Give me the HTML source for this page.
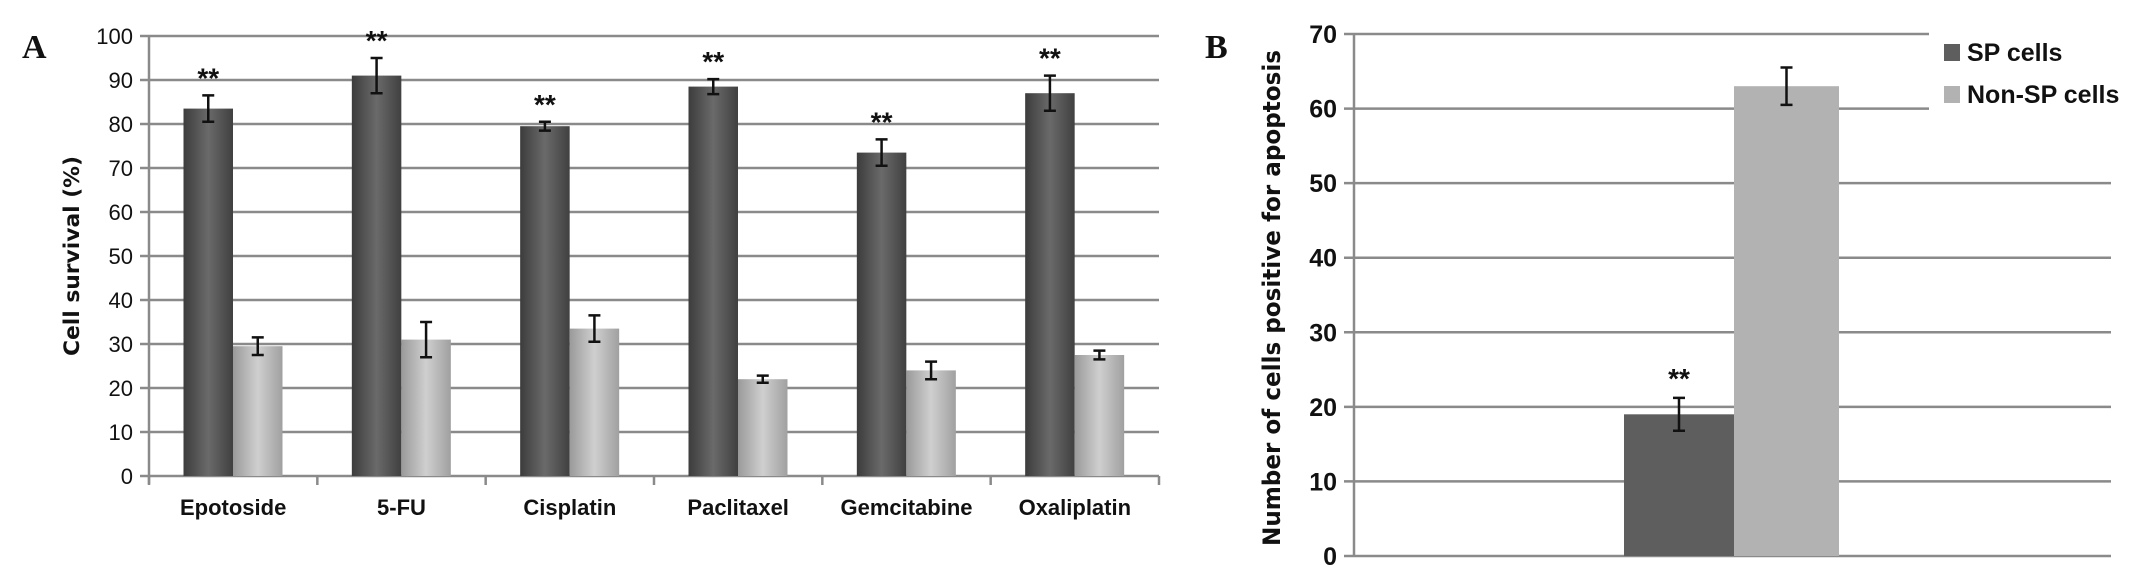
<!DOCTYPE html>
<html><head><meta charset="utf-8">
<style>
html,body{margin:0;padding:0;background:#fff;width:2133px;height:584px;overflow:hidden}
svg{display:block}
.tick{font-family:"Liberation Sans Narrow","Liberation Sans",sans-serif;font-size:22px;fill:#111}
.cat{font-family:"Liberation Sans Narrow","Liberation Sans",sans-serif;font-size:22px;font-weight:bold;fill:#111}
.btick{font-family:"Liberation Sans Narrow","Liberation Sans",sans-serif;font-size:25px;font-weight:bold;fill:#111}
.ttl{font-family:"DejaVu Sans","Liberation Sans",sans-serif;font-weight:bold;fill:#111}
.star{font-family:"Liberation Sans",sans-serif;font-weight:bold;fill:#111;font-size:28px}
.panel{font-family:"Liberation Serif",serif;font-weight:bold;font-size:34px;fill:#111}
</style></head><body>
<svg id="chart" width="2133" height="584" viewBox="0 0 2133 584">
<defs>
<linearGradient id="gDark" x1="0" x2="1" y1="0" y2="0">
<stop offset="0" stop-color="#3c3c3c"/><stop offset="0.5" stop-color="#6a6a6a"/><stop offset="1" stop-color="#404040"/></linearGradient>
<linearGradient id="gLight" x1="0" x2="1" y1="0" y2="0">
<stop offset="0" stop-color="#9a9a9a"/><stop offset="0.5" stop-color="#cfcfcf"/><stop offset="1" stop-color="#a0a0a0"/></linearGradient>
</defs>
<text class="panel" x="22" y="58">A</text>
<text class="panel" x="1205" y="58">B</text>
<g id="A"></g><g id="B"></g>
</svg>
<script>
const aCategories = ["Epotoside","5-FU","Cisplatin","Paclitaxel","Gemcitabine","Oxaliplatin"];
const aSP = [83.5, 91, 79.5, 88.5, 73.5, 87];
const aSPErr = [3, 4, 1, 1.7, 3, 4];
const aNonSP = [29.5, 31, 33.5, 22, 24, 27.5];
const aNonSPErr = [2, 4, 3, 0.8, 2, 1];
const aTicks = [0,10,20,30,40,50,60,70,80,90,100];
const bSeries = ["SP cells","Non-SP cells"];
const bValues = [19, 63];
const bErr = [2.2, 2.5];
const bTicks = [0,10,20,30,40,50,60,70];

const NS="http://www.w3.org/2000/svg";
function mk(parent,tag,attrs,text){const e=document.createElementNS(NS,tag);for(const k in attrs)e.setAttribute(k,attrs[k]);if(text!==undefined)e.textContent=text;parent.appendChild(e);return e;}

// Panel A
const A=document.getElementById('A');
const ax0=149, ax1=1159, ay0=476, ay1=36;
const yA=v=>ay0-(v/100)*(ay0-ay1);
const catW=(ax1-ax0)/aCategories.length;
aTicks.forEach(t=>{
  let l=mk(A,'line',{x1:ax0-9,x2:ax1,y1:yA(t),y2:yA(t),stroke:'#8a8a8a','stroke-width':2.5});
  
  let tx=mk(A,'text',{x:ax0-16,y:yA(t)+8,'text-anchor':'end',class:'tick'},String(t));
  
});
let yax=mk(A,'line',{x1:ax0,x2:ax0,y1:ay1,y2:ay0+8,stroke:'#8a8a8a','stroke-width':2.5});

for(let i=0;i<=aCategories.length;i++){
  let tk=mk(A,'line',{x1:ax0+i*catW,x2:ax0+i*catW,y1:ay0,y2:ay0+9,stroke:'#8a8a8a','stroke-width':2.5});
  
}
function errBar(g,cx,v,e,yf){
  const p=mk(g,'path',{d:`M${cx-6},${yf(v+e)}H${cx+6}M${cx},${yf(v+e)}V${yf(v-e)}M${cx-6},${yf(v-e)}H${cx+6}`,stroke:'#111','stroke-width':2.5,fill:'none'});
  
}
const bw=49.5;
aCategories.forEach((c,i)=>{
  const x=ax0+i*catW+34.5;
  let r1=mk(A,'rect',{x:x,y:yA(aSP[i]),width:bw,height:ay0-yA(aSP[i]),fill:'url(#gDark)'});
  
  let r2=mk(A,'rect',{x:x+bw,y:yA(aNonSP[i]),width:bw,height:ay0-yA(aNonSP[i]),fill:'url(#gLight)'});
  
  errBar(A,x+bw/2,aSP[i],aSPErr[i],yA);
  errBar(A,x+bw*1.5,aNonSP[i],aNonSPErr[i],yA);
  let s=mk(A,'text',{x:x+bw/2,y:yA(aSP[i]+aSPErr[i])-8,'text-anchor':'middle',class:'star'},'**');
  
  let cl=mk(A,'text',{x:ax0+(i+0.5)*catW,y:515,'text-anchor':'middle',class:'cat'},c);
  
});
let at=mk(A,'text',{x:0,y:0,'text-anchor':'middle',class:'ttl','font-size':21,textLength:200,lengthAdjust:'spacingAndGlyphs',transform:`translate(79,${(ay0+ay1)/2}) rotate(-90)`},'Cell survival (%)');


// Panel B
const B=document.getElementById('B');
const bx0=1354, bx1=2111, by0=556, by1=34;
const yB=v=>by0-(v/70)*(by0-by1);
bTicks.forEach(t=>{
  const xe=(t>=60)?1929:bx1;
  let l=mk(B,'line',{x1:bx0-10,x2:xe,y1:yB(t),y2:yB(t),stroke:'#8a8a8a','stroke-width':2.5});
  
  let tx=mk(B,'text',{x:bx0-17,y:yB(t)+9,'text-anchor':'end',class:'btick'},String(t));
  
});
let byax=mk(B,'line',{x1:bx0,x2:bx0,y1:by1,y2:by0,stroke:'#8a8a8a','stroke-width':2.5});

const bColors=['#5e5e5e','#b2b2b2'];
const bBarX=[1624,1734], bBarW=[110,105];
bValues.forEach((v,i)=>{
  let r=mk(B,'rect',{x:bBarX[i],y:yB(v),width:bBarW[i],height:by0-yB(v),fill:bColors[i]});
  
  errBar(B,bBarX[i]+bBarW[i]/2,v,bErr[i],yB);
});
let bs=mk(B,'text',{x:bBarX[0]+bBarW[0]/2,y:yB(bValues[0]+bErr[0])-10,'text-anchor':'middle',class:'star','font-size':34},'**');

let bt=mk(B,'text',{x:0,y:0,'text-anchor':'middle',class:'ttl','font-size':24,textLength:496,lengthAdjust:'spacingAndGlyphs',transform:`translate(1280,${298}) rotate(-90)`},'Number of cells positive for apoptosis');

bSeries.forEach((s,i)=>{
  const y=44+i*42;
  let sw=mk(B,'rect',{x:1944,y:y,width:16,height:17,fill:bColors[i]});
  
  let lt=mk(B,'text',{x:1967,y:y+17,class:'btick'},s);
  
});
</script>
</body></html>
